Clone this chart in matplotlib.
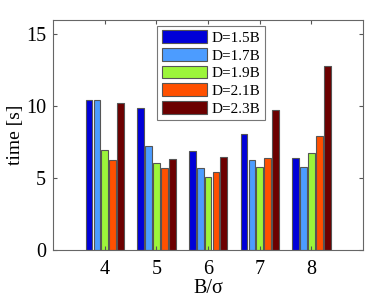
import numpy as np
import matplotlib.pyplot as plt

# B/sigma groups and timings for each D
ratios = [4, 5, 6, 7, 8]
labels = ['D=1.5B', 'D=1.7B', 'D=1.9B', 'D=2.1B', 'D=2.3B']
times_15 = [10.47, 9.88, 6.91, 8.09, 6.40]
times_17 = [10.47, 7.21, 5.70, 6.26, 5.74]
times_19 = [6.98, 6.05, 5.07, 5.77, 6.77]
times_21 = [6.28, 5.72, 5.42, 6.37, 7.91]
times_23 = [10.23, 6.35, 6.49, 9.72, 12.79]
colors = ['#0000d8', '#4c9cff', '#9cf53a', '#ff5000', '#6c0000']

series = [times_15, times_17, times_19, times_21, times_23]

plt.rcParams['font.family'] = ['Liberation Serif', 'DejaVu Serif']
fig = plt.figure(figsize=(3.74, 2.99), dpi=100)
ax = fig.add_axes([0.142, 0.164, 0.829, 0.769])

x = np.array(ratios, dtype=float)
step = 0.152
width = 0.13
for i, (vals, lab, col) in enumerate(zip(series, labels, colors)):
    ax.bar(x + (i - 2) * step, vals, width, color=col, edgecolor='#555555',
           linewidth=0.8, label=lab)

ax.set_xlim(3, 9)
ax.set_ylim(0, 16)
ax.set_xticks(ratios)
ax.set_yticks([0, 5, 10, 15])
ax.tick_params(direction='in', top=True, right=True, labelsize=14.5, length=3,
               color='#555555')
ax.tick_params(axis='x', pad=7)
ax.tick_params(axis='y', pad=5)
for s in ax.spines.values():
    s.set_color('#666666')
ax.set_xlabel('B/σ', fontsize=14.5, labelpad=0)
ax.set_ylabel('time [s]', fontsize=14)
ax.yaxis.set_label_coords(-0.094, 0.5)

leg = ax.legend(loc='upper left', bbox_to_anchor=(0.335, 0.975), fontsize=11,
                frameon=True, fancybox=False, edgecolor='#555555',
                handlelength=3.0, handleheight=0.9, labelspacing=0.2,
                borderpad=0.3, handletextpad=0.3, borderaxespad=0)
leg.get_frame().set_linewidth(0.8)

fig.savefig('out.png', dpi=100)
